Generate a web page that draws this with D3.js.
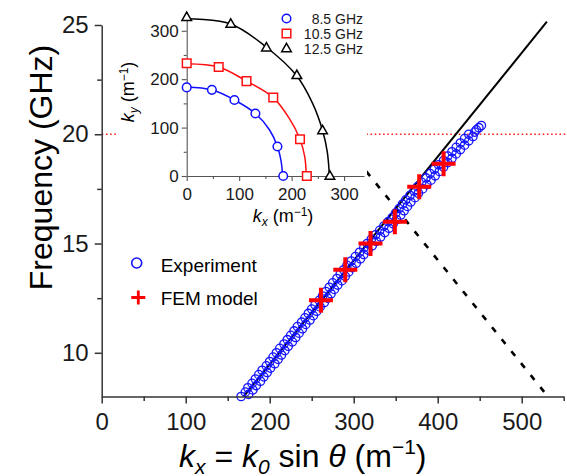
<!DOCTYPE html>
<html><head><meta charset="utf-8">
<script src="https://cdn.jsdelivr.net/npm/d3@7"></script>
<style>body{margin:0;background:#fff} svg{display:block} text{font-family:"Liberation Sans",Arial,sans-serif}</style>
</head><body><svg id="c" width="567" height="476"></svg>
<script>
// ---------- data ----------
const xTicks = [0,100,200,300,400,500];
const xMinor = [50,150,250,350,450,550];
const yTicks = [10,15,20,25];
const yMinor = [12.5,17.5,22.5];

const expFreq = [8.0,8.1,8.2,8.3,8.4,8.5,8.6,8.7,8.8,8.9,
 9.0,9.1,9.2,9.3,9.4,9.5,9.6,9.7,9.8,9.9,
 10.0,10.1,10.2,10.3,10.4,10.5,10.6,10.7,10.8,10.9,
 11.0,11.1,11.2,11.3,11.4,11.5,11.6,11.7,11.8,11.9,
 12.0,12.1,12.2,12.3,12.4,12.5,12.6,12.7,12.8,12.9,
 13.0,13.1,13.2,13.3,13.4,13.5,13.6,13.7,13.8,13.9,
 14.0,14.1,14.2,14.3,14.4,14.5,14.6,14.7,14.8,14.9,
 15.0,15.1,15.2,15.3,15.4,15.5,15.6,15.7,15.8,15.9,
 16.0,16.1,16.2,16.3,16.4,16.5,16.6,16.7,16.8,16.9,
 17.0,17.1,17.2,17.3,17.4,17.5,17.6,17.7,17.8,17.9,
 18.0,18.1,18.2,18.3,18.4,18.5,18.6,18.7,18.8,18.9,
 19.0,19.1,19.2,19.3,19.4,19.5,19.6,19.7,19.8,19.9,
 20.0,20.1,20.2,20.3,20.4];
const expK = [166,175,171,180,174,184,179,189,183,193,
 187,197,191,201,196,206,200,210,204,214,
 208,218,212,222,217,227,221,231,225,235,
 229,239,233,243,238,248,242,252,246,256,
 250,260,254,265,259,269,263,273,267,277,
 271,281,275,286,280,290,284,294,288,298,
 292,303,297,308,302,312,307,317,312,322,
 316,327,321,332,326,337,331,342,336,347,
 341,351,346,356,350,360,354,364,358,368,
 362,373,367,377,372,382,376,387,381,392,
 386,397,391,402,396,407,401,412,407,417,
 412,422,417,427,422,432,427,437,432,442,
 437,444,446,449,452];

const femFreq = [12.4,13.8,15.0,16.0,17.6,18.65];
const femK = [261,290,320,349,378,407];

const lightK = [169,530];
const lightF = [8.0,25.15];
const braggK = [315,527];
const braggF = [18.3,8.2];
const dottedF = 20;
const dottedK = [0,555];

// inset
const insetLabels = ["8.5 GHz","10.5 GHz","12.5 GHz"];
const insetColors = ["#1010ff","#ff1010","#000000"];
const in85Kx = [0,48,91,131,173,184];
const in85Ky = [183,178,157,129,61,0];
const in105Kx = [0,61,114,165,216,229];
const in105Ky = [233,225,196,162,76,0];
const in125Kx = [0,84,152,210,259,273];
const in125Ky = [328,314,265,208,94,0];
// fitted curves
const fit85Kx = [0,48,91,131,158,173,180,183];
const fit85Ky = [184,178,157,129,95,61,30,0];
const fit105Kx = [0,61,114,165,195,216,225,228];
const fit105Ky = [232,225,196,162,120,76,40,0];
const fit125Kx = [0,84,152,209,240,259,268,272];
const fit125Ky = [325,314,266,208,150,94,50,0];
const insetXTicks = [0,100,200,300];
const insetXMinor = [50,150,250];
const insetYTicks = [0,100,200,300];
const insetYMinor = [50,150,250];

// ---------- chart ----------
const svg = d3.select("#c");
const x = d3.scaleLinear().domain([0,550]).range([101.7,563.7]);
const y = d3.scaleLinear().domain([8,25]).range([396.5,25]);

// red dotted line at 20 GHz
svg.append("line")
  .attr("x1", x(dottedK[0])).attr("x2", x(dottedK[1]))
  .attr("y1", y(dottedF)).attr("y2", y(dottedF))
  .attr("stroke","#ff2020").attr("stroke-width",1.6).attr("stroke-dasharray","1.6,2.6");

// dashed line
const lineGen = d3.line().x(d=>x(d[0])).y(d=>y(d[1]));
svg.append("path").datum(braggK.map((k,i)=>[k,braggF[i]]))
  .attr("d", lineGen).attr("fill","none").attr("stroke","#000")
  .attr("stroke-width",2.6).attr("stroke-dasharray","6,9.4");

// light line
svg.append("path").datum(lightK.map((k,i)=>[k,lightF[i]]))
  .attr("d", lineGen).attr("fill","none").attr("stroke","#000").attr("stroke-width",2);

// experiment circles
svg.append("g").selectAll("circle").data(expFreq.map((f,i)=>[expK[i],f])).join("circle")
  .attr("cx", d=>x(d[0])).attr("cy", d=>y(d[1])).attr("r",4.2)
  .attr("fill","none").attr("stroke","#1414ff").attr("stroke-width",1.3);

// FEM crosses
svg.append("g").selectAll("path").data(femFreq.map((f,i)=>[femK[i],f])).join("path")
  .attr("transform", d=>`translate(${x(d[0])},${y(d[1])})`)
  .attr("d","M-12,0H12M0,-12.5V12.5").attr("stroke","#ff0000").attr("stroke-width",4);

// axes
function styleAxis(g, fs){
  g.selectAll("path,line").attr("stroke","#333").attr("stroke-width",1.5);
  g.selectAll("text").attr("font-size",fs).attr("fill","#1a1a1a")
   .attr("font-family",'"Liberation Sans",Arial,sans-serif');
}
const gx = svg.append("g").attr("transform",`translate(0,${y(8)})`)
  .call(d3.axisBottom(x).tickValues(xTicks).tickSize(7).tickPadding(9).tickSizeOuter(0));
styleAxis(gx,"24px");
const gxm = svg.append("g").attr("transform",`translate(0,${y(8)})`)
  .call(d3.axisBottom(x).tickValues(xMinor).tickSize(4.5).tickFormat("").tickSizeOuter(0));
gxm.select(".domain").remove(); styleAxis(gxm,"0px");

const gy = svg.append("g").attr("transform",`translate(${x(0)},0)`)
  .call(d3.axisLeft(y).tickValues(yTicks).tickSize(7).tickPadding(6).tickSizeOuter(0));
styleAxis(gy,"24px");
const gym = svg.append("g").attr("transform",`translate(${x(0)},0)`)
  .call(d3.axisLeft(y).tickValues(yMinor).tickSize(4.5).tickFormat("").tickSizeOuter(0));
gym.select(".domain").remove(); styleAxis(gym,"0px");

// axis titles
svg.append("text").attr("transform","translate(52,167.5) rotate(-90)")
  .attr("text-anchor","middle").attr("font-size","32px").attr("fill","#000")
  .text("Frequency (GHz)");

const xt = svg.append("text").attr("x",179).attr("y",466.5).attr("font-size","32px").attr("fill","#000");
xt.append("tspan").attr("font-style","italic").text("k");
xt.append("tspan").attr("font-style","italic").attr("font-size","21px").attr("dy",7).text("x");
xt.append("tspan").attr("dy",-7).text(" = ");
xt.append("tspan").attr("font-style","italic").text("k");
xt.append("tspan").attr("font-style","italic").attr("font-size","21px").attr("dy",7).text("0");
xt.append("tspan").attr("dy",-7).text(" sin ");
xt.append("tspan").attr("font-style","italic").text("θ");
xt.append("tspan").text(" (m");
xt.append("tspan").attr("font-size","21px").attr("dy",-13).text("−1");
xt.append("tspan").attr("dy",13).text(")");

// legend
svg.append("circle").attr("cx",136.7).attr("cy",263).attr("r",5)
  .attr("fill","none").attr("stroke","#1414ff").attr("stroke-width",1.6);
svg.append("path").attr("transform","translate(138.3,297.5)")
  .attr("d","M-7,0H7M0,-7V7").attr("stroke","#ff0000").attr("stroke-width",2.8);
svg.append("text").attr("x",160.7).attr("y",272).attr("font-size","19px").text("Experiment");
svg.append("text").attr("x",160.7).attr("y",305).attr("font-size","19px").text("FEM model");

// ---------- inset ----------
svg.append("rect").attr("x",117).attr("y",0).attr("width",250).attr("height",232).attr("fill","#fff");
const ix = d3.scaleLinear().domain([0,338]).range([186.7,364]);
const iy = d3.scaleLinear().domain([0,340]).range([176,11.4]);

const gix = svg.append("g").attr("transform",`translate(0,${iy(0)})`)
  .call(d3.axisBottom(ix).tickValues(insetXTicks).tickSize(5).tickPadding(7).tickSizeOuter(0));
const gixm = svg.append("g").attr("transform",`translate(0,${iy(0)})`)
  .call(d3.axisBottom(ix).tickValues(insetXMinor).tickSize(3).tickFormat("").tickSizeOuter(0));
gixm.select(".domain").remove();
const giy = svg.append("g").attr("transform",`translate(${ix(0)},0)`)
  .call(d3.axisLeft(iy).tickValues(insetYTicks).tickSize(5).tickPadding(3).tickSizeOuter(0));
const giym = svg.append("g").attr("transform",`translate(${ix(0)},0)`)
  .call(d3.axisLeft(iy).tickValues(insetYMinor).tickSize(3).tickFormat("").tickSizeOuter(0));
giym.select(".domain").remove();
[gix,gixm,giy,giym].forEach(g=>{
  g.selectAll("path,line").attr("stroke","#555").attr("stroke-width",1.1);
  g.selectAll("text").attr("font-size","17px").attr("fill","#1a1a1a")
   .attr("font-family",'"Liberation Sans",Arial,sans-serif');
});

const iline = d3.line().x(d=>ix(d[0])).y(d=>iy(d[1])).curve(d3.curveCatmullRom.alpha(0.5));
const fits = [[fit85Kx,fit85Ky],[fit105Kx,fit105Ky],[fit125Kx,fit125Ky]];
fits.forEach((f,j)=>{
  svg.append("path").datum(f[0].map((k,i)=>[k,f[1][i]])).attr("d",iline)
    .attr("fill","none").attr("stroke",insetColors[j]).attr("stroke-width",1.5);
});
const markerPaths = [
  "M4.3,0A4.3,4.3 0 1,1 -4.3,0A4.3,4.3 0 1,1 4.3,0Z",
  "M-4.3,-4.3H4.3V4.3H-4.3Z",
  "M0,-5.2L4.8,3.2H-4.8Z"];
const pts = [[in85Kx,in85Ky],[in105Kx,in105Ky],[in125Kx,in125Ky]];
pts.forEach((p,j)=>{
  svg.append("g").selectAll("path").data(p[0].map((k,i)=>[k,p[1][i]])).join("path")
    .attr("transform",d=>`translate(${ix(d[0])},${iy(d[1])})`)
    .attr("d",markerPaths[j]).attr("fill","#fff").attr("stroke",insetColors[j]).attr("stroke-width",1.5);
});

// inset legend
insetLabels.forEach((lab,j)=>{
  svg.append("path").attr("transform",`translate(286.5,${18.5+15*j})`)
    .attr("d",markerPaths[j]).attr("fill","#fff").attr("stroke",insetColors[j]).attr("stroke-width",1.5);
  svg.append("text").attr("x",363).attr("y",23.5+15*j).attr("text-anchor","end")
    .attr("font-size","14px").attr("fill","#1a1a1a").text(lab);
});

// inset axis titles
const ixt = svg.append("text").attr("x",283).attr("y",222).attr("text-anchor","middle")
  .attr("font-size","18px").attr("fill","#000");
ixt.append("tspan").attr("font-style","italic").text("k");
ixt.append("tspan").attr("font-style","italic").attr("font-size","12px").attr("dy",4).text("x");
ixt.append("tspan").attr("dy",-4).text("  (m");
ixt.append("tspan").attr("font-size","12px").attr("dy",-6).text("−1");
ixt.append("tspan").attr("dy",6).text(")");

const iyt = svg.append("text").attr("transform","translate(134,92) rotate(-90)")
  .attr("text-anchor","middle").attr("font-size","18px").attr("fill","#000");
iyt.append("tspan").attr("font-style","italic").text("k");
iyt.append("tspan").attr("font-style","italic").attr("font-size","12px").attr("dy",4).text("y");
iyt.append("tspan").attr("dy",-4).text("  (m");
iyt.append("tspan").attr("font-size","12px").attr("dy",-6).text("−1");
iyt.append("tspan").attr("dy",6).text(")");
</script></body></html>
